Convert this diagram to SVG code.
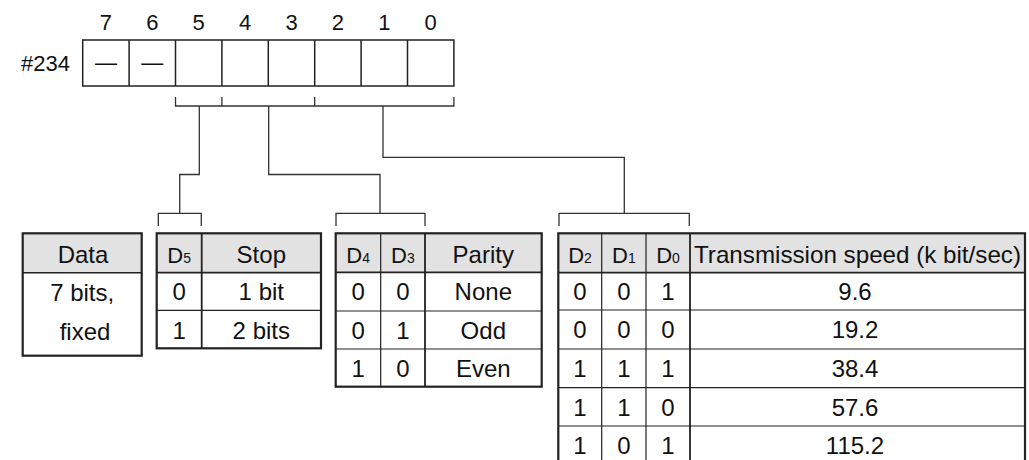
<svg xmlns="http://www.w3.org/2000/svg" width="1029" height="460" viewBox="0 0 1029 460">
<style>
text{font-family:"Liberation Sans",Arial,sans-serif;font-size:24px;fill:#111;text-anchor:middle}
.r{font-size:22px}
.d{font-size:22px}
.s{font-size:14px}
.cell{fill:#fff;stroke:#222;stroke-width:1.5}
.hdr{fill:#e2e2e2;stroke:none}
.thin{stroke:#222;stroke-width:1.2;fill:none}
.thick{stroke:#222;stroke-width:2.2;fill:none}
.con{stroke:#333;stroke-width:1.3;fill:none}
</style>
<rect width="1029" height="460" fill="#fff"/>

<g id="register">
  <text x="70" y="71" class="r" style="text-anchor:end">#234</text>
  <g class="r">
    <text x="105.9" y="29.5" class="r">7</text>
    <text x="152.3" y="29.5" class="r">6</text>
    <text x="198.7" y="29.5" class="r">5</text>
    <text x="245.1" y="29.5" class="r">4</text>
    <text x="291.5" y="29.5" class="r">3</text>
    <text x="337.9" y="29.5" class="r">2</text>
    <text x="384.3" y="29.5" class="r">1</text>
    <text x="430.7" y="29.5" class="r">0</text>
  </g>
  <rect class="cell" x="82.7" y="40" width="371.2" height="46"/>
  <path class="thin" d="M129.1 40V86M175.5 40V86M221.9 40V86M268.3 40V86M314.7 40V86M361.1 40V86M407.5 40V86" style="stroke-width:1.5"/>
  <text x="105.9" y="70" class="r">—</text>
  <text x="152.3" y="70" class="r">—</text>
</g>

<g id="connectors">
  <path class="con" d="M175.5 97V106H453.9V97M221.9 97V106M314.7 97V106"/>
  <path class="con" d="M199.3 106V174.5H179.7V213.3"/>
  <path class="con" d="M268.7 106V174.5H380V213.3"/>
  <path class="con" d="M383 106V157.3H624.3V213.3"/>
  <path class="con" d="M158.3 226V213.3H201.3V226"/>
  <path class="con" d="M336 226V213.3H425V226"/>
  <path class="con" d="M559 226V213.3H689.3V226"/>
</g>

<g id="data-table">
  <rect class="hdr" x="22.7" y="233.3" width="119" height="39.4"/>
  <rect class="thick" x="22.7" y="233.3" width="119" height="122.4"/>
  <path class="thick" d="M22.7 272.7H141.7" style="stroke-width:1.6"/>
  <text x="83" y="263">Data</text>
  <text x="82.2" y="300.5">7 bits,</text>
  <text x="85" y="340">fixed</text>
</g>

<g id="stop-table">
  <rect class="hdr" x="156.7" y="233.3" width="164.3" height="39.4"/>
  <rect class="thick" x="156.7" y="233.3" width="164.3" height="115"/>
  <path class="thick" d="M201.7 233.3V348.3M156.7 272.7H321" style="stroke-width:1.8"/>
  <path class="thin" d="M156.7 310.3H321"/>
  <text x="179.2" y="263" class="d">D<tspan class="s">5</tspan></text>
  <text x="261.3" y="263">Stop</text>
  <text x="179.2" y="300">0</text>
  <text x="261.3" y="300">1 bit</text>
  <text x="179.2" y="339">1</text>
  <text x="261.3" y="339">2 bits</text>
</g>

<g id="parity-table">
  <rect class="hdr" x="335.7" y="233.3" width="206" height="39"/>
  <rect class="thick" x="335.7" y="233.3" width="206" height="153.4"/>
  <path class="thick" d="M425 233.3V386.7M335.7 272.3H541.7" style="stroke-width:1.8"/>
  <path class="thin" d="M380.7 233.3V386.7M335.7 311H541.7M335.7 349H541.7"/>
  <text x="358.2" y="263" class="d">D<tspan class="s">4</tspan></text>
  <text x="402.9" y="263" class="d">D<tspan class="s">3</tspan></text>
  <text x="483.3" y="263">Parity</text>
  <text x="358.2" y="300">0</text><text x="402.9" y="300">0</text><text x="483.3" y="300">None</text>
  <text x="358.2" y="338.5">0</text><text x="402.9" y="338.5">1</text><text x="483.3" y="338.5">Odd</text>
  <text x="358.2" y="376.5">1</text><text x="402.9" y="376.5">0</text><text x="483.3" y="376.5">Even</text>
</g>

<g id="speed-table">
  <rect class="hdr" x="558.3" y="233.3" width="466.7" height="39.4"/>
  <rect class="thick" x="558.3" y="233.3" width="466.7" height="235"/>
  <path class="thick" d="M690 233.3V468M558.3 272.7H1025" style="stroke-width:1.8"/>
  <path class="thin" d="M601.7 233.3V468M646 233.3V468M558.3 310H1025M558.3 349H1025M558.3 387.7H1025M558.3 426H1025"/>
  <text x="580" y="263" class="d">D<tspan class="s">2</tspan></text>
  <text x="623.9" y="263" class="d">D<tspan class="s">1</tspan></text>
  <text x="668" y="263" class="d">D<tspan class="s">0</tspan></text>
  <text x="857.5" y="263" textLength="327" lengthAdjust="spacingAndGlyphs">Transmission speed (k bit/sec)</text>
  <text x="580" y="300">0</text><text x="623.9" y="300">0</text><text x="668" y="300">1</text><text x="855" y="300">9.6</text>
  <text x="580" y="338">0</text><text x="623.9" y="338">0</text><text x="668" y="338">0</text><text x="855" y="338">19.2</text>
  <text x="580" y="377">1</text><text x="623.9" y="377">1</text><text x="668" y="377">1</text><text x="855" y="377">38.4</text>
  <text x="580" y="415.5">1</text><text x="623.9" y="415.5">1</text><text x="668" y="415.5">0</text><text x="855" y="415.5">57.6</text>
  <text x="580" y="454">1</text><text x="623.9" y="454">0</text><text x="668" y="454">1</text><text x="855" y="454">115.2</text>
</g>
</svg>
